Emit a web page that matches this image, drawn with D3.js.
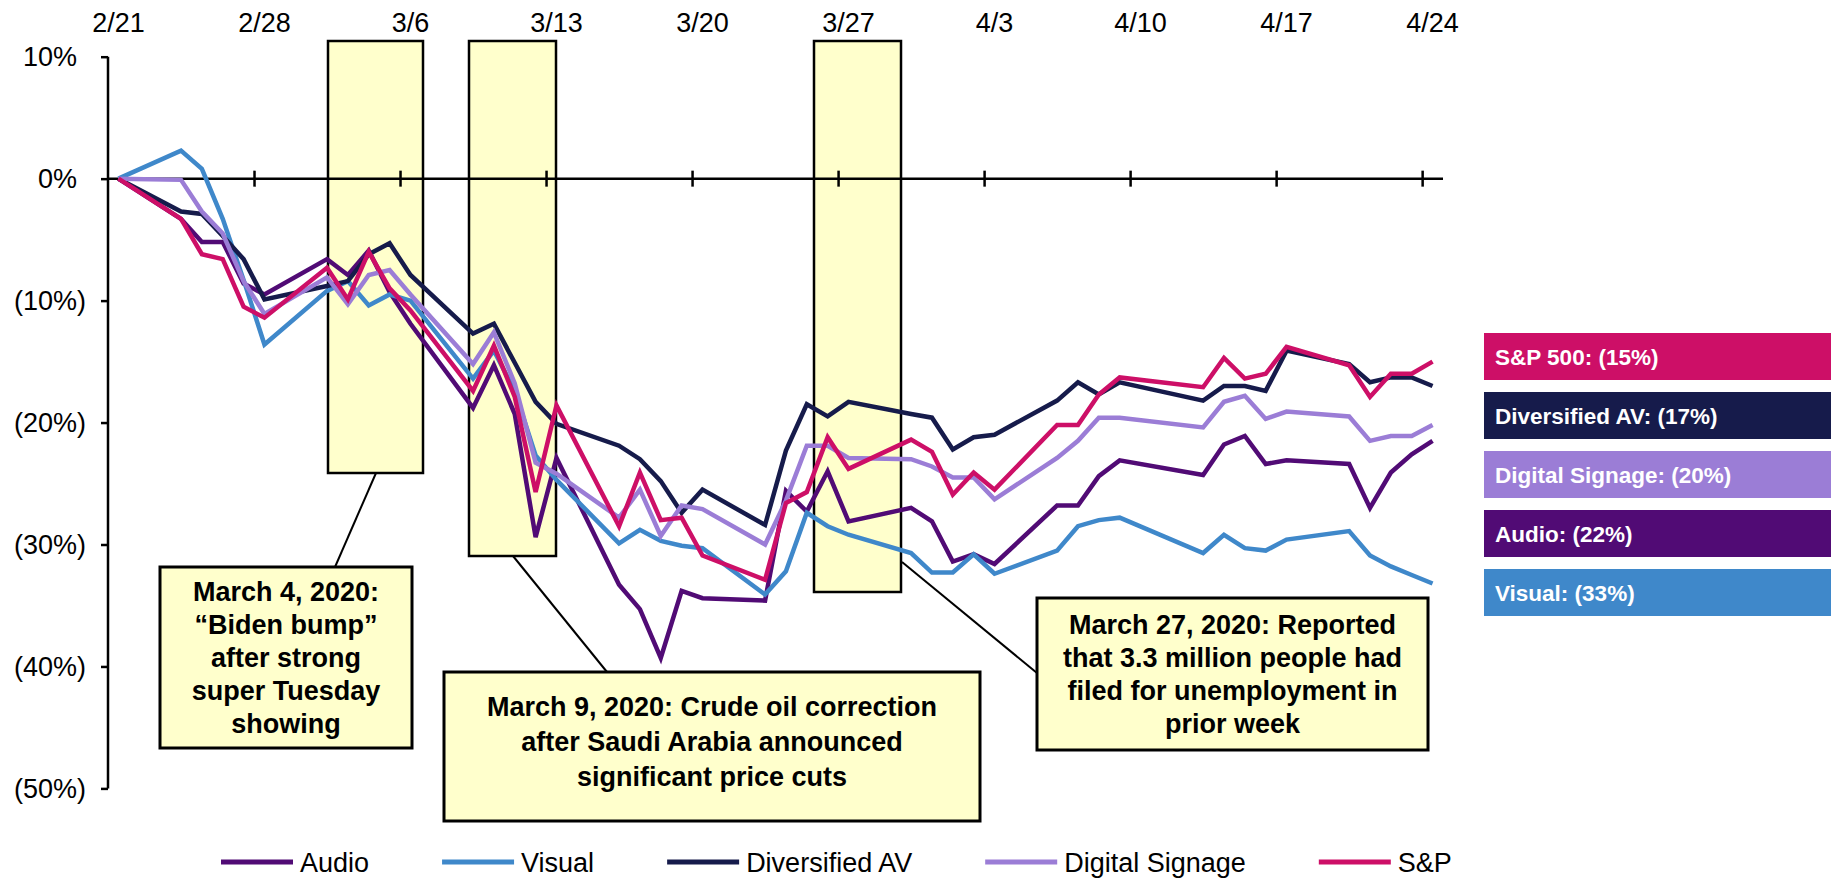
<!DOCTYPE html>
<html>
<head>
<meta charset="utf-8">
<script src="https://cdn.jsdelivr.net/npm/d3@7"></script>
<style>
  html, body { margin: 0; padding: 0; background: #fff; }
  svg { display: block; font-family: "Liberation Sans", Arial, sans-serif; }
</style>
</head>
<body>
<svg id="chart" width="1831" height="886"></svg>
<script>
// trading days, 2/21 - 4/24 2020
const dates = [
  "2020-02-21", "2020-02-24", "2020-02-25", "2020-02-26", "2020-02-27", "2020-02-28",
  "2020-03-02", "2020-03-03", "2020-03-04", "2020-03-05", "2020-03-06",
  "2020-03-09", "2020-03-10", "2020-03-11", "2020-03-12", "2020-03-13",
  "2020-03-16", "2020-03-17", "2020-03-18", "2020-03-19", "2020-03-20",
  "2020-03-23", "2020-03-24", "2020-03-25", "2020-03-26", "2020-03-27",
  "2020-03-30", "2020-03-31", "2020-04-01", "2020-04-02", "2020-04-03",
  "2020-04-06", "2020-04-07", "2020-04-08", "2020-04-09",
  "2020-04-13", "2020-04-14", "2020-04-15", "2020-04-16", "2020-04-17",
  "2020-04-20", "2020-04-21", "2020-04-22", "2020-04-23", "2020-04-24"
];

// % change since 2/21
const audio = [0, -3.3, -5.2, -5.2, -8.6, -9.5, -6.6, -7.9, -5.9, -9.3, -11.9,
  -18.8, -15.3, -19.3, -29.4, -22.9, -33.3, -35.3, -39.3, -33.8, -34.4,
  -34.6, -25.6, -27.3, -24.0, -28.1, -27.0, -28.1, -31.4, -30.8, -31.6,
  -26.8, -26.8, -24.4, -23.1, -24.3, -21.8, -21.1, -23.4, -23.1,
  -23.4, -27.0, -24.1, -22.6, -21.5];
const visual = [0, 2.3, 0.8, -3.3, -8.3, -13.6, -9.2, -8.4, -10.4, -9.5, -10.0,
  -16.4, -14.1, -17.4, -22.7, -24.7, -29.9, -28.8, -29.7, -30.1, -30.3,
  -34.1, -32.2, -27.4, -28.5, -29.2, -30.7, -32.3, -32.3, -30.8, -32.4,
  -30.5, -28.5, -28.0, -27.8, -30.7, -29.2, -30.3, -30.5, -29.6,
  -28.9, -30.9, -31.8, -32.5, -33.2];
const diversified = [0, -2.7, -2.9, -4.7, -6.6, -9.9, -8.8, -8.4, -6.2, -5.3, -7.9,
  -12.7, -11.9, -15.1, -18.3, -20.1, -21.9, -23.0, -24.8, -27.4, -25.5,
  -28.4, -22.3, -18.5, -19.5, -18.3, -19.3, -19.6, -22.2, -21.2, -21.0,
  -18.2, -16.7, -17.7, -16.7, -18.2, -17.0, -17.0, -17.4, -14.1,
  -15.2, -16.7, -16.3, -16.3, -17.0];
const signage = [0, -0.1, -2.7, -4.5, -8.4, -11.1, -8.1, -10.3, -7.9, -7.5, -9.5,
  -15.2, -12.6, -16.8, -23.3, -24.2, -27.8, -25.5, -29.3, -26.8, -27.1,
  -30.0, -26.4, -21.9, -21.9, -22.9, -23.0, -23.6, -24.5, -24.5, -26.3,
  -22.9, -21.5, -19.6, -19.6, -20.4, -18.3, -17.8, -19.7, -19.1,
  -19.5, -21.5, -21.1, -21.1, -20.2];
const sp = [0, -3.3, -6.2, -6.6, -10.5, -11.4, -7.3, -9.9, -6.0, -9.0, -10.8,
  -17.4, -13.7, -17.9, -25.7, -18.6, -28.5, -24.1, -28.0, -27.8, -30.9,
  -32.9, -26.6, -25.7, -21.2, -23.8, -21.4, -22.4, -25.9, -24.1, -25.5,
  -20.2, -20.2, -17.7, -16.3, -17.1, -14.7, -16.4, -16.0, -13.8,
  -15.3, -17.9, -16.0, -16.0, -15.0];

const seriesNames = ["Audio", "Visual", "Diversified AV", "Digital Signage", "S&P"];
const seriesValues = [audio, visual, diversified, signage, sp];
const seriesColors = ["#510B75", "#3F88CA", "#161B4B", "#9B7DD6", "#CD0F67"];

const tickDates = ["2020-02-21", "2020-02-28", "2020-03-06", "2020-03-13", "2020-03-20",
  "2020-03-27", "2020-04-03", "2020-04-10", "2020-04-17", "2020-04-24"];
const yTicks = [10, 0, -10, -20, -30, -40, -50];

const endLabels = ["S&P 500: (15%)", "Diversified AV: (17%)", "Digital Signage: (20%)", "Audio: (22%)", "Visual: (33%)"];
const endColors = ["#CD0F67", "#161B4B", "#9B7DD6", "#510B75", "#3F88CA"];

const notes = [
  { lines: ["March 4, 2020:", "\u201CBiden bump\u201D", "after strong", "super Tuesday", "showing"],
    hl: [328, 41, 423, 473], box: [160, 567, 412, 748], lead: [376, 473, 335, 567], lh: 33, dy: 0 },
  { lines: ["March 9, 2020: Crude oil correction", "after Saudi Arabia announced", "significant price cuts"],
    hl: [469, 41, 556, 556], box: [444, 672, 980, 821], lead: [513, 556, 607, 672], lh: 35, dy: -5 },
  { lines: ["March 27, 2020: Reported", "that 3.3 million people had", "filed for unemployment in", "prior week"],
    hl: [814, 41, 901, 592], box: [1037, 598, 1428, 750], lead: [902, 562, 1037, 673], lh: 33, dy: 0 }
];

const svg = d3.select("#chart");
const parse = d3.utcParse("%Y-%m-%d");
const mid = d => d3.utcHour.offset(parse(d), 12);

const x = d3.scaleUtc()
  .domain([parse("2020-02-21"), parse("2020-04-25")])
  .range([108, 1443]);
const y = d3.scaleLinear().domain([-50, 10]).range([788.4, 56.7]);

// highlight windows
const hl = svg.append("g");
notes.forEach(n => {
  hl.append("rect")
    .attr("x", n.hl[0]).attr("y", n.hl[1])
    .attr("width", n.hl[2] - n.hl[0]).attr("height", n.hl[3] - n.hl[1])
    .attr("fill", "#FFFFCC").attr("stroke", "#000").attr("stroke-width", 2.5);
});

// y axis
const yAxis = d3.axisLeft(y).tickValues(yTicks).tickSize(7).tickFormat("");
const gy = svg.append("g").attr("transform", "translate(108,0)").call(yAxis);
gy.select(".domain").attr("d", "M0," + y(10) + "V" + y(-50)).attr("stroke-width", 2.5);
gy.selectAll(".tick line").attr("stroke-width", 2.5);

svg.append("g").selectAll("text")
  .data(yTicks)
  .join("text")
  .attr("x", d => d < 0 ? 86 : 77)
  .attr("y", d => y(d) + 9.5)
  .attr("text-anchor", "end")
  .attr("font-size", 27)
  .attr("fill", "#000")
  .text(d => d < 0 ? "(" + (-d) + "%)" : d + "%");

// x axis on the zero line
const xAxis = d3.axisBottom(x).tickValues(tickDates.slice(1).map(parse)).tickSize(8).tickFormat("");
const gx = svg.append("g").attr("transform", "translate(0," + y(0) + ")").call(xAxis);
gx.select(".domain").attr("d", "M108,0H1443").attr("stroke-width", 2.5);
gx.selectAll(".tick line").attr("y1", -8).attr("y2", 8).attr("stroke-width", 2.5);

svg.append("g").selectAll("text")
  .data(tickDates)
  .join("text")
  .attr("x", d => x(mid(d)))
  .attr("y", 32)
  .attr("text-anchor", "middle")
  .attr("font-size", 27)
  .attr("fill", "#000")
  .text(d => d3.utcFormat("%-m/%-d")(parse(d)));

// leader lines
notes.forEach(n => {
  svg.append("line")
    .attr("x1", n.lead[0]).attr("y1", n.lead[1])
    .attr("x2", n.lead[2]).attr("y2", n.lead[3])
    .attr("stroke", "#000").attr("stroke-width", 2);
});

// series
const line = d3.line()
  .x((d, i) => x(mid(dates[i])))
  .y(d => y(d));

svg.append("g").selectAll("path")
  .data(seriesValues)
  .join("path")
  .attr("fill", "none")
  .attr("stroke", (d, i) => seriesColors[i])
  .attr("stroke-width", 4.5)
  .attr("stroke-linejoin", "miter")
  .attr("d", line);

// callout boxes
notes.forEach(n => {
  const [x0, y0, x1, y1] = n.box;
  svg.append("rect")
    .attr("x", x0).attr("y", y0)
    .attr("width", x1 - x0).attr("height", y1 - y0)
    .attr("fill", "#FFFFCC").attr("stroke", "#000").attr("stroke-width", 3);
  const cx = (x0 + x1) / 2;
  const cy = (y0 + y1) / 2 + n.dy;
  svg.append("g").selectAll("text")
    .data(n.lines)
    .join("text")
    .attr("x", cx)
    .attr("y", (d, i) => cy + 9.7 + (i - (n.lines.length - 1) / 2) * n.lh)
    .attr("text-anchor", "middle")
    .attr("font-size", 27)
    .attr("font-weight", "bold")
    .attr("fill", "#000")
    .text(d => d);
});

// end value boxes
const eg = svg.append("g");
endLabels.forEach((t, i) => {
  const top = 333 + i * 59;
  eg.append("rect")
    .attr("x", 1484).attr("y", top)
    .attr("width", 347).attr("height", 47)
    .attr("fill", endColors[i]);
  eg.append("text")
    .attr("x", 1495).attr("y", top + 23.5 + 8)
    .attr("font-size", 22.5)
    .attr("font-weight", "bold")
    .attr("fill", "#fff")
    .text(t);
});

// legend
const lg = svg.append("g");
let lx = 221;
seriesNames.forEach((name, i) => {
  lg.append("line")
    .attr("x1", lx).attr("x2", lx + 72)
    .attr("y1", 862).attr("y2", 862)
    .attr("stroke", seriesColors[i]).attr("stroke-width", 5);
  const t = lg.append("text")
    .attr("x", lx + 79).attr("y", 872)
    .attr("font-size", 27)
    .attr("fill", "#000")
    .text(name);
  lx += 79 + t.node().getComputedTextLength() + 73;
});
</script>
</body>
</html>
